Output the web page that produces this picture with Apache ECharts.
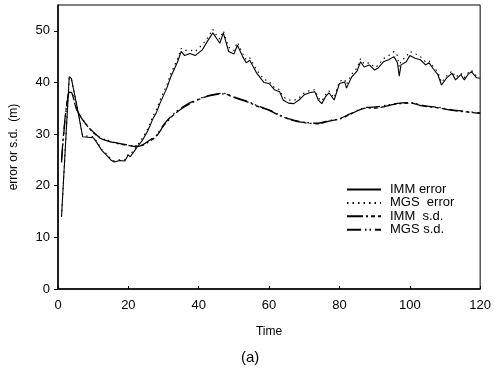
<!DOCTYPE html>
<html>
<head>
<meta charset="utf-8">
<script src="https://cdn.jsdelivr.net/npm/echarts@6/dist/echarts.min.js"></script>
<style>
  html, body { margin: 0; padding: 0; background: #fff; }
  #chart { width: 494px; height: 378px; }
</style>
</head>
<body>
<div id="chart"></div>
<script>
// error curves
const errTime = [1, 3.2, 3.8, 5.5, 7, 8.5, 10, 11, 12.5, 14, 15, 16, 17.5, 19, 20, 20.5, 21.5, 22.5, 24, 25.5,
  27, 28, 29, 31, 32, 34, 35, 36, 37.5, 39, 41, 42.5, 44, 45, 46, 47, 48.5, 50, 51, 52.5,
  53.5, 54.5, 56.5, 58.5, 60, 61.5, 63, 64, 65.5, 67, 68.5, 70, 71.5, 73, 74, 75, 76, 77, 78.5, 80,
  81.5, 82, 83.5, 85, 86, 87, 88.5, 90, 91, 92.5, 94, 95.5, 96.5, 97, 97.5, 99, 100, 101.5, 103, 104.5,
  105.5, 106.5, 108, 109, 110.5, 112, 113, 114.5, 115.5, 116.5, 117.5, 119, 120]
const immError = [14.0, 41.1, 40.8, 35, 29.5, 29.4, 29.3, 28.4, 26.8, 25.8, 25.0, 24.6, 24.9, 24.8, 26.0, 25.6, 26.5, 27.5, 28.8, 30.6,
  33.0, 34.2, 36.0, 39.0, 41.0, 44.0, 46.0, 45.2, 45.6, 45.2, 46.3, 48.0, 49.6, 48.6, 47.6, 49.6, 46.0, 45.5, 47.2, 45.0,
  43.8, 44.3, 41.8, 40.0, 39.8, 38.6, 38.2, 36.6, 36.0, 35.9, 36.6, 37.6, 38.0, 38.2, 36.6, 35.9, 37.2, 38.0, 36.6, 39.8,
  40.1, 38.9, 41.1, 42.2, 44.0, 43.0, 43.4, 42.4, 42.8, 44.0, 44.4, 45.0, 43.8, 41.2, 43.4, 44.0, 45.2, 44.7, 44.4, 43.4,
  43.8, 42.8, 41.5, 39.5, 40.9, 41.8, 40.5, 41.5, 40.5, 41.5, 42.1, 40.9, 40.8]
const mgsError = [14.0, 41.0, 40.6, 35.2, 29.7, 29.6, 29.5, 28.6, 27.0, 26.0, 25.2, 24.8, 25.0, 25.0, 26.1, 25.8, 26.7, 27.8, 29.2, 31.0,
  33.5, 34.8, 36.6, 39.6, 41.6, 44.6, 46.6, 46.2, 46.3, 46.0, 47.3, 48.6, 50.3, 49.2, 48.4, 50.0, 46.8, 46.2, 47.8, 45.6,
  44.4, 44.8, 42.4, 40.6, 40.2, 39.0, 38.6, 37.2, 36.6, 36.5, 37.0, 38.0, 38.4, 38.6, 37.0, 36.4, 37.6, 38.4, 37.0, 40.2,
  40.6, 39.6, 41.6, 42.8, 44.6, 43.6, 43.8, 42.9, 43.3, 44.6, 45.2, 46.0, 45.2, 43.0, 44.2, 45.0, 46.0, 45.6, 45.0, 44.0,
  44.2, 43.2, 42.0, 40.0, 41.3, 42.2, 41.0, 41.8, 40.9, 41.8, 42.4, 41.2, 41.0]

// standard deviation curves
const sdTime = [1, 3.2, 3.9, 5, 6, 7.4, 9, 10.5, 12, 14, 16, 18, 20, 22, 24, 26, 28, 30, 33, 36, 40, 43,
  47, 50, 54, 57, 60, 63, 66, 70, 74, 77, 80, 83, 87, 91, 96, 100, 104, 108, 112, 116, 120]
const immSd = [25, 38.1, 38.0, 35.3, 33.8, 32.4, 31.0, 30.0, 29.2, 28.7, 28.3, 28.0, 27.8, 27.6, 27.8, 28.6, 29.6, 31.6, 33.8, 35.3, 36.7, 37.4,
  37.8, 37.1, 36.2, 35.3, 34.6, 33.6, 32.8, 32.2, 32.0, 32.5, 32.9, 33.8, 35.0, 35.1, 35.8, 36.0, 35.4, 35.1, 34.6, 34.3, 34.0]
const mgsSd = [24.5, 37.9, 37.9, 35.4, 33.9, 32.5, 31.1, 30.1, 29.3, 28.8, 28.4, 28.1, 27.9, 27.7, 27.9, 28.8, 29.8, 31.8, 34.0, 35.5, 36.8, 37.5,
  37.9, 37.2, 36.3, 35.4, 34.7, 33.7, 32.9, 32.3, 32.1, 32.6, 33.0, 33.9, 35.1, 35.3, 35.9, 36.1, 35.5, 35.2, 34.7, 34.4, 34.1]

const yTicks = [0, 10, 20, 30, 40, 50]
const xTicks = [0, 20, 40, 60, 80, 100, 120]

const pairs = (ts, vs) => ts.map((t, i) => [t, vs[i]])

const chart = echarts.init(document.getElementById('chart'))
const font = 'Liberation Sans, Arial, sans-serif'

chart.setOption({
  animation: false,
  textStyle: { fontFamily: font, color: '#000' },
  grid: { left: 57, right: 12, top: 5, bottom: 89, show: true, borderColor: '#000', borderWidth: 1 },
  title: {
    text: '(a)', left: 236, top: 345,
    textStyle: { fontFamily: font, fontSize: 15, fontWeight: 'normal', color: '#000' },
  },
  legend: {
    orient: 'vertical',
    left: 346,
    top: 183,
    padding: 0,
    itemWidth: 34,
    itemHeight: 10,
    itemGap: 0.4,
    itemStyle: { color: 'transparent', borderColor: 'transparent', borderWidth: 0 },
    textStyle: { fontFamily: font, fontSize: 13, color: '#000', padding: [0, 0, 0, 4] },
    data: ['IMM error', 'MGS  error', 'IMM  s.d.', 'MGS s.d.'],
  },
  xAxis: {
    type: 'value',
    min: 0,
    max: 120,
    interval: 20,
    name: 'Time',
    nameLocation: 'middle',
    nameGap: 37,
    nameTextStyle: { fontFamily: font, fontSize: 12, color: '#000' },
    axisLine: { lineStyle: { color: '#000', width: 1.5 } },
    axisTick: { inside: true, length: 3, lineStyle: { color: '#000' } },
    axisLabel: {
      fontSize: 13, color: '#000', margin: 10, fontFamily: font,
      formatter: (v) => (xTicks.includes(v) ? String(v) : ''),
    },
    splitLine: { show: false },
  },
  yAxis: {
    type: 'value',
    min: 0,
    max: 55,
    interval: 10,
    name: 'error or s.d.  (m)',
    nameLocation: 'middle',
    nameGap: 38,
    nameTextStyle: { fontFamily: font, fontSize: 12, color: '#000' },
    axisLine: { show: true, lineStyle: { color: '#000', width: 1.5 } },
    axisTick: { show: true, length: 4, lineStyle: { color: '#000' } },
    axisLabel: {
      fontSize: 13, color: '#000', margin: 8, fontFamily: font, showMaxLabel: false,
      formatter: (v) => (yTicks.includes(v) ? String(v) : ''),
    },
    splitLine: { show: false },
  },
  series: [
    {
      name: 'IMM error', type: 'line', symbol: 'none', data: pairs(errTime, immError), z: 4,
      color: '#000', lineStyle: { color: '#000', width: 1.1 },
    },
    {
      name: 'MGS  error', type: 'line', symbol: 'none', data: pairs(errTime, mgsError), z: 3,
      color: '#000', lineStyle: { color: '#000', width: 1.1, type: [1.5, 4] },
    },
    {
      name: 'IMM  s.d.', type: 'line', symbol: 'none', data: pairs(sdTime, immSd), smooth: 0.3, z: 2,
      color: '#000', lineStyle: { color: '#000', width: 1.3, type: [16, 3, 2, 3, 4, 3] },
    },
    {
      name: 'MGS s.d.', type: 'line', symbol: 'none', data: pairs(sdTime, mgsSd), smooth: 0.3, z: 2,
      color: '#000', lineStyle: { color: '#000', width: 1.3, type: [14, 4, 1.5, 3, 1.5, 4] },
    },
  ],
})
</script>
</body>
</html>
